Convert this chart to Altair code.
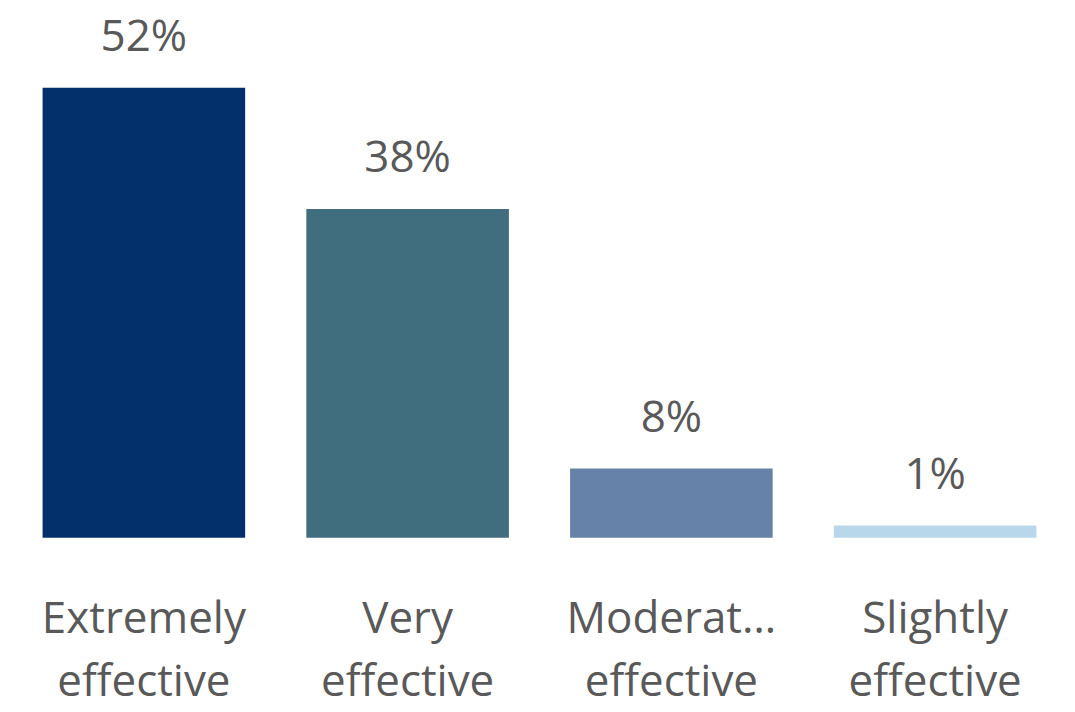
import altair as alt
import pandas as pd

categories = ["Extremely effective", "Very effective", "Moderately effective", "Slightly effective"]
shares = [0.52, 0.38, 0.08, 0.014]
colors = ["#03306A", "#416E7E", "#6782A8", "#B8D7EA"]

df = pd.DataFrame({"cat": categories, "share": shares, "color": colors})

base = alt.Chart(df).encode(
    x=alt.X("cat:N", sort=categories,
            scale=alt.Scale(paddingInner=0.232, paddingOuter=0.116),
            axis=alt.Axis(title=None, ticks=False, domain=False, labelAngle=0,
                          labelExpr="split(datum.label, ' ')",
                          labelFont="Open Sans", labelFontSize=44, labelColor="#595959",
                          labelPadding=60, labelLimit=222, labelLineHeight=63)),
    y=alt.Y("share:Q", scale=alt.Scale(domain=[0, 0.6]), axis=None),
)

bars = base.mark_bar().encode(color=alt.Color("color:N", scale=None))
text = base.mark_text(baseline="alphabetic", dy=-37, font="Open Sans", fontSize=44,
                      color="#595959").encode(text=alt.Text("share:Q", format=".0%"))

chart = (bars + text).properties(
    width=1057, height=520,
    padding={"left": 4, "top": 10, "right": 0, "bottom": 166},
    autosize=alt.AutoSizeParams(type="none"),
).configure(background="white").configure_view(stroke=None)

chart.save("out.html", embed_options={"renderer": "svg", "actions": False})
